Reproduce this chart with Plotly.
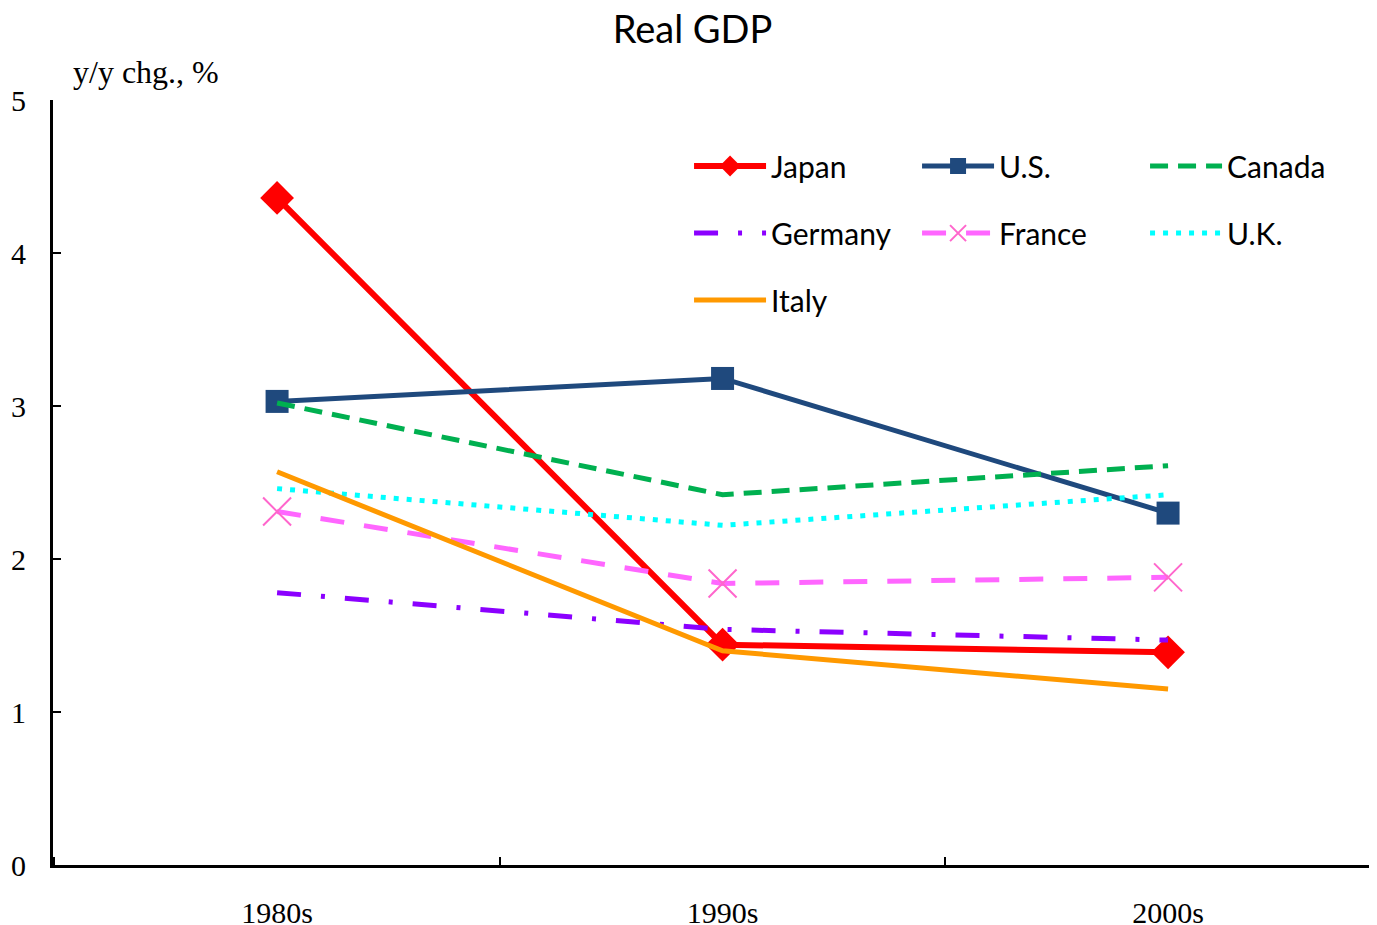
import plotly.graph_objects as go

decades = ["1980s", "1990s", "2000s"]
japan = [4.36, 1.44, 1.39]
us = [3.03, 3.18, 2.30]
canada = [3.02, 2.42, 2.61]
germany = [1.78, 1.54, 1.47]
france = [2.31, 1.84, 1.88]
uk = [2.46, 2.22, 2.42]
italy = [2.57, 1.40, 1.15]

fig = go.Figure()

def add(name, y, color, width, dash, legend, marker=None):
    kw = dict(x=decades, y=y, name=name, legend=legend,
              line=dict(color=color, width=width, dash=dash))
    if marker:
        kw["mode"] = "lines+markers"
        kw["marker"] = marker
    else:
        kw["mode"] = "lines"
    fig.add_trace(go.Scatter(**kw))

add("Japan", japan, "#FF0000", 6, "solid", "legend",
    dict(symbol="diamond", size=26, color="#FF0000"))
add("U.S.", us, "#1F497D", 5, "solid", "legend",
    dict(symbol="square", size=23, color="#1F497D"))
add("Canada", canada, "#00B050", 5, "18px,10px", "legend")
add("Germany", germany, "#8B00FF", 5, "24px,20px,4px,20px", "legend2")
add("France", france, "#FF66FF", 5, "24px,20px", "legend2",
    dict(symbol="x-thin", size=28, color="#FF66CC", line=dict(width=2, color="#FF66CC")))
add("U.K.", uk, "#00FFFF", 5, "5px,8px", "legend2")
add("Italy", italy, "#FF9900", 5, "solid", "legend3")

legfont = dict(family="Lato, Open Sans, sans-serif", size=30, color="black")
common = dict(orientation="h", xanchor="left", yanchor="middle", entrywidth=141,
              entrywidthmode="pixels", font=legfont, bgcolor="rgba(0,0,0,0)",
              itemwidth=72, tracegroupgap=0, borderwidth=0)
LX = 0.4804

serif = "Liberation Serif, Times New Roman, serif"
fig.update_layout(
    width=1369, height=917,
    paper_bgcolor="white", plot_bgcolor="white",
    margin=dict(l=45, r=0, t=92, b=60, autoexpand=False),
    title=dict(text="Real GDP", x=0.5, xanchor="center", y=0.976, yanchor="middle",
               font=dict(family="Lato, Open Sans, sans-serif", size=38, color="black")),
    xaxis=dict(type="category", range=[-0.503, 2.469], showgrid=False, zeroline=False,
               showline=True, linecolor="black", linewidth=3, mirror=False, automargin=False,
               ticks="inside", tickson="boundaries", ticklen=8, tickwidth=2, tickcolor="black",
               tickfont=dict(family=serif, size=30, color="black"),
               ticklabelstandoff=19),
    yaxis=dict(range=[0, 5], dtick=1, showgrid=False, zeroline=False, automargin=False,
               showline=True, linecolor="black", linewidth=3, mirror=True,
               ticks="inside", ticklen=8, tickwidth=2, tickcolor="black",
               tickfont=dict(family=serif, size=30, color="black"),
               ticklabelstandoff=18),
    legend=dict(x=LX, y=0.9137, **common),
    legend2=dict(x=LX, y=0.826, **common),
    legend3=dict(x=LX, y=0.7386, **common),
    annotations=[dict(text="y/y chg., %", xref="paper", yref="paper", x=0.0135, y=1.0,
                      xanchor="left", yanchor="middle", yshift=28, showarrow=False,
                      font=dict(family=serif, size=32, color="black"))],
)

fig.write_html("out.html")
